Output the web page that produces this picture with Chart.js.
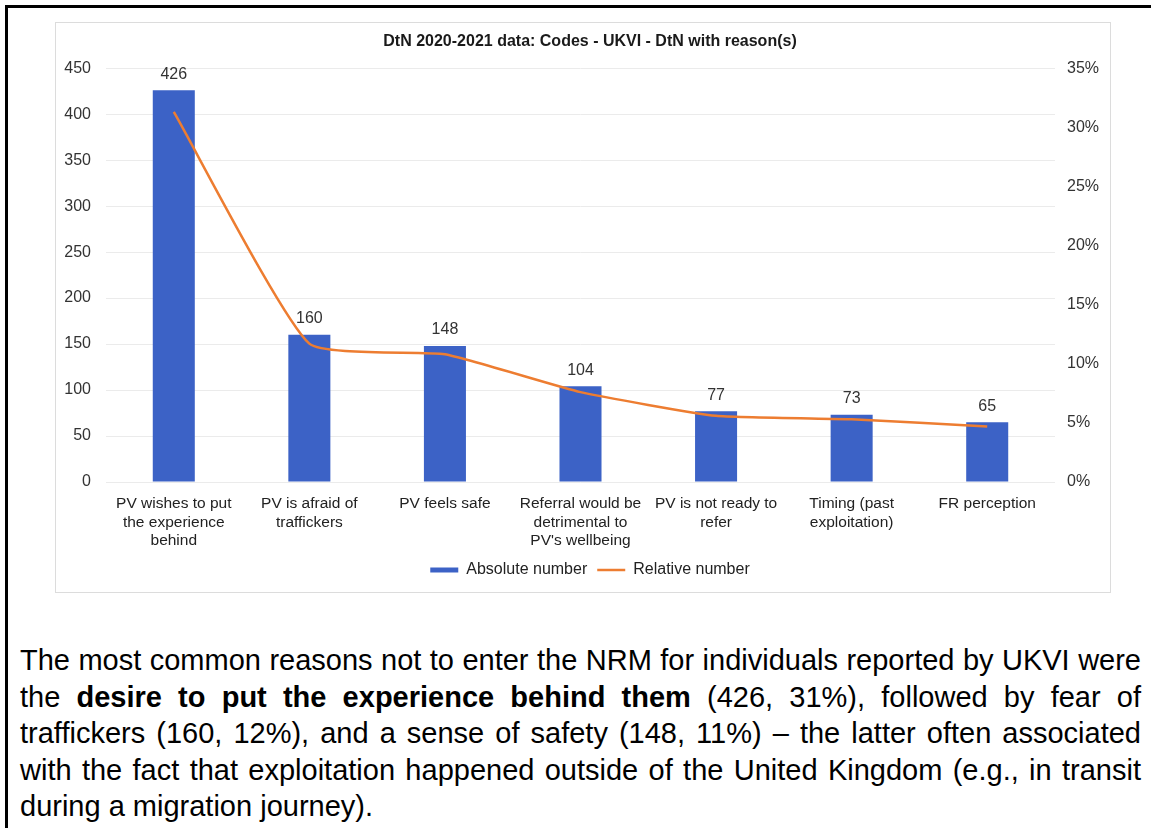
<!DOCTYPE html>
<html>
<head>
<meta charset="utf-8">
<script src="https://cdn.jsdelivr.net/npm/chart.js@4.4.1/dist/chart.umd.min.js"></script>
<style>
  html, body { margin: 0; padding: 0; background: #fff; }
  body { width: 1151px; height: 828px; position: relative; overflow: hidden; font-family: "Liberation Sans", Arial, sans-serif; }
  .frame { position: absolute; left: 5px; top: 5px; width: 1200px; height: 900px; border-top: 3px solid #000; border-left: 3px solid #000; }
  .panel { position: absolute; left: 55px; top: 22px; width: 1054px; height: 569px; border: 1px solid #dcdcdc; }
  #wrap { position: absolute; left: 55px; top: 22px; width: 1070px; height: 570px; }
  .note { position: absolute; left: 20px; top: 642px; width: 1121px; font-size: 29px; line-height: 36.6px; color: #000; }
  .note div { white-space: nowrap; text-align: justify; text-align-last: justify; }
  .note div.last { text-align-last: left; }
</style>
</head>
<body>
<div class="frame"></div>
<div class="panel"></div>
<div id="wrap"><canvas id="grafico" width="1070" height="570"></canvas></div>
<div class="note">
  <div>The most common reasons not to enter the NRM for individuals reported by UKVI were</div>
  <div>the <b>desire to put the experience behind them</b> (426, 31%), followed by fear of</div>
  <div>traffickers (160, 12%), and a sense of safety (148, 11%) &ndash; the latter often associated</div>
  <div>with the fact that exploitation happened outside of the United Kingdom (e.g., in transit</div>
  <div class="last">during a migration journey).</div>
</div>

<script>
// data
const categorias = [
  ['PV wishes to put', 'the experience', 'behind'],
  ['PV is afraid of', 'traffickers'],
  ['PV feels safe'],
  ['Referral would be', 'detrimental to', "PV's wellbeing"],
  ['PV is not ready to', 'refer'],
  ['Timing (past', 'exploitation)'],
  ['FR perception']
];
const absoluto = [426, 160, 148, 104, 77, 73, 65];
const relativo = [31.3, 11.7, 10.8, 7.6, 5.6, 5.3, 4.7];
const ticksEsq = [0, 50, 100, 150, 200, 250, 300, 350, 400, 450];
const ticksDir = [0, 5, 10, 15, 20, 25, 30, 35];

const azul = '#3c62c6';
const laranja = '#ed7d31';
const fonte = '"Liberation Sans", Arial, Helvetica, sans-serif';

// value labels over the bars
const rotulos = {
  id: 'rotulos',
  afterDatasetsDraw(chart) {
    const meta = chart.getDatasetMeta(0);
    const ctx = chart.ctx;
    ctx.save();
    ctx.font = '16px ' + fonte;
    ctx.fillStyle = '#333';
    ctx.textAlign = 'center';
    ctx.textBaseline = 'middle';
    meta.data.forEach(function (bar, i) {
      ctx.fillText(absoluto[i], bar.x, bar.y - 16);
    });
    ctx.restore();
  }
};

const ctx = document.getElementById('grafico');
const chartDtn = new Chart(ctx, {
  type: 'bar',
  data: {
    labels: categorias,
    datasets: [{
      type: 'bar',
      label: 'Absolute number',
      data: absoluto,
      backgroundColor: azul,
      borderWidth: 0,
      pointStyle: 'rect',
      categoryPercentage: 1,
      barPercentage: 0.31,
      yAxisID: 'y',
      order: 2
    }, {
      type: 'line',
      label: 'Relative number',
      data: relativo,
      borderColor: laranja,
      backgroundColor: laranja,
      borderWidth: 2.5,
      pointRadius: 0,
      pointStyle: 'line',
      tension: 0.15,
      yAxisID: 'y1',
      order: 1
    }]
  },
  options: {
    responsive: false,
    animation: false,
    devicePixelRatio: 1,
    layout: { padding: { top: 0, left: 0, right: 0, bottom: 4 } },
    plugins: {
      title: {
        display: true,
        text: 'DtN 2020-2021 data: Codes - UKVI - DtN with reason(s)',
        color: '#1a1a1a',
        font: { family: fonte, size: 16, weight: 'bold' },
        padding: { top: 10, bottom: 17 }
      },
      legend: {
        position: 'bottom',
        labels: {
          usePointStyle: true,
          pointStyleWidth: 28,
          boxHeight: 5,
          padding: 10,
          color: '#222',
          font: { family: fonte, size: 16 },
          sort: function (a, b) { return a.datasetIndex - b.datasetIndex; }
        }
      },
      tooltip: { enabled: false }
    },
    scales: {
      x: {
        grid: { display: false },
        border: { display: false },
        ticks: {
          color: '#222',
          padding: 5,
          maxRotation: 0,
          autoSkip: false,
          font: { family: fonte, size: 15.5, lineHeight: 1.18 }
        },
        afterFit: function (scale) { scale.height = 70; }
      },
      y: {
        position: 'left',
        min: 0,
        max: 450,
        afterBuildTicks: function (scale) { scale.ticks = ticksEsq.map(function (v) { return { value: v }; }); },
        grid: { color: '#ebebeb', drawTicks: false },
        border: { display: false },
        ticks: {
          color: '#333',
          padding: 15,
          font: { family: fonte, size: 16 }
        },
        afterFit: function (scale) { scale.width = 51; }
      },
      y1: {
        position: 'right',
        min: 0,
        max: 35,
        afterBuildTicks: function (scale) { scale.ticks = ticksDir.map(function (v) { return { value: v }; }); },
        grid: { drawOnChartArea: false, drawTicks: false },
        border: { display: false },
        ticks: {
          color: '#333',
          padding: 12,
          font: { family: fonte, size: 16 },
          callback: function (v) { return v + '%'; }
        },
        afterFit: function (scale) { scale.width = 70; }
      }
    }
  },
  plugins: [rotulos]
});
</script>
</body>
</html>
